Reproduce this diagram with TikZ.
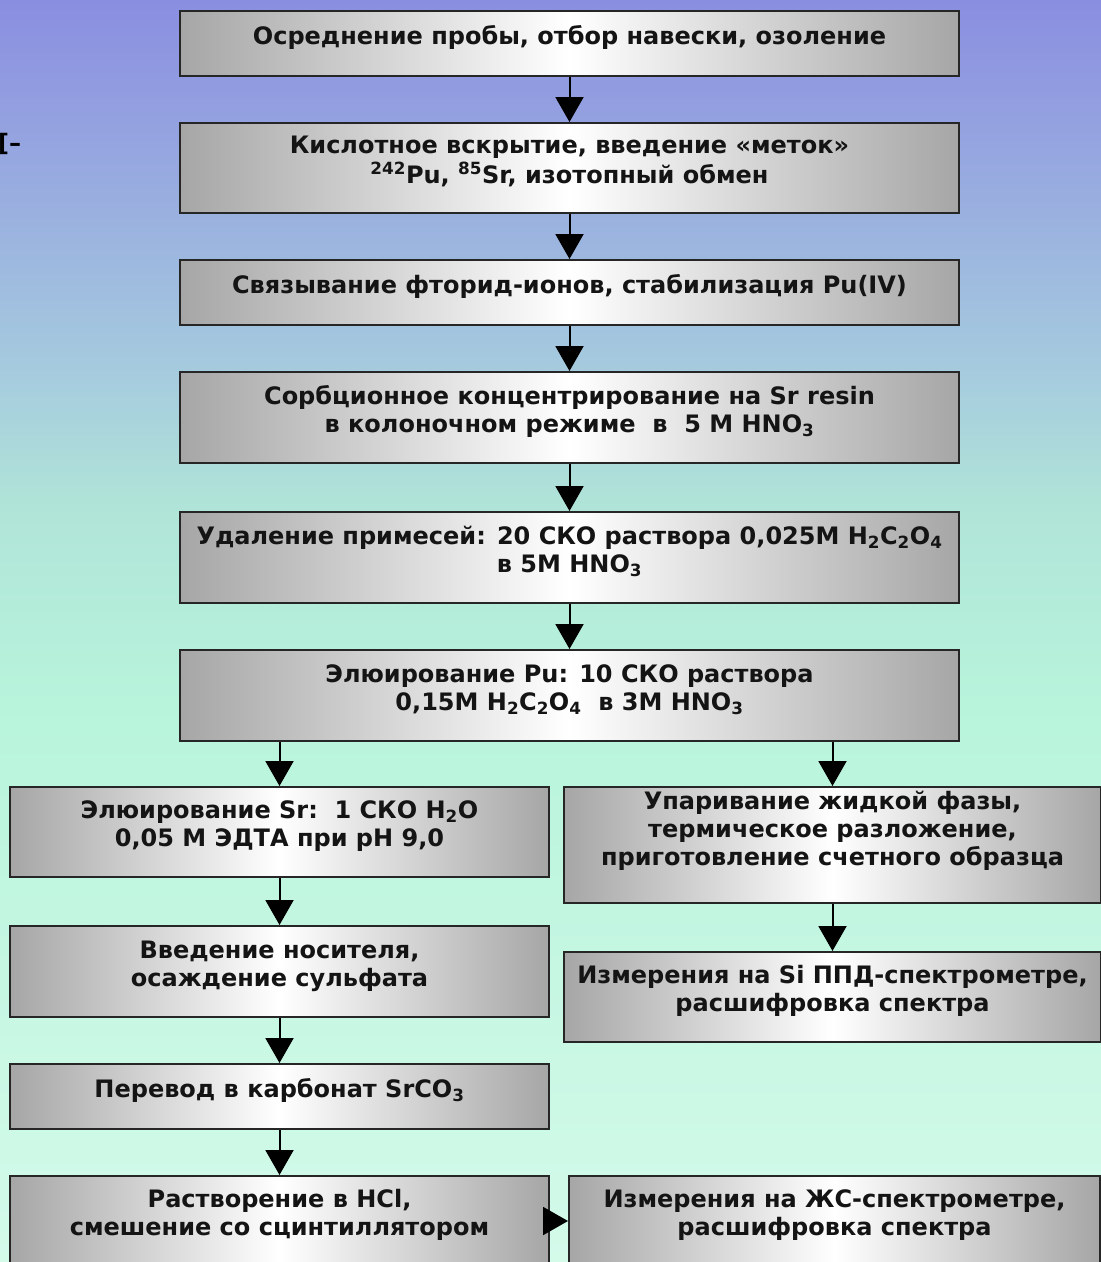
\documentclass[tikz,border=0pt]{standalone}
\usepackage{fontspec}
\setmainfont{DejaVu Sans}
\usepackage{tikz}
\usetikzlibrary{positioning, arrows.meta}
\definecolor{bgtop}{HTML}{8A8EE0}
\definecolor{bga}{HTML}{94A2E0}
\definecolor{bgb}{HTML}{A6CCDE}
\definecolor{bgc}{HTML}{B0E4D8}
\definecolor{bgd}{HTML}{B8F4DC}
\definecolor{bge}{HTML}{D4FAEA}
\definecolor{boxedge}{HTML}{A6A6A6}
\pgfdeclareverticalshading{bgsky}{100bp}{color(0bp)=(bge); color(25bp)=(bge); color(47bp)=(bgd); color(55bp)=(bgc); color(60bp)=(bgb); color(70bp)=(bga); color(75bp)=(bgtop); color(100bp)=(bgtop)}
\pgfdeclarehorizontalshading{boxshade}{100bp}{color(0bp)=(boxedge); color(25bp)=(boxedge); color(50bp)=(white); color(75bp)=(boxedge); color(100bp)=(boxedge)}
\newcommand{\stk}[1]{\begin{tabular}[b]{@{}c@{}}#1\end{tabular}}
\tikzset{
stage/.style={draw=black!85, line width=2pt, shading=boxshade, font=\fontsize{24}{28}\selectfont\bfseries, text=black!92, inner sep=0pt, text depth=18pt}, % one step of the scheme
wide/.style={minimum width=779pt}, % boxes of the main column
half/.style={minimum width=539pt}, % boxes of the two branches
flow/.style={line width=2pt, -{Triangle[length=25pt,width=28pt]}}, % arrow between steps
node distance=45pt, % gap between two steps
}

\begin{document}
\begin{tikzpicture}[x=1pt, y=-1pt]
        \useasboundingbox (0,0) rectangle (1101,1262);
        \shade[shading=bgsky] (0,0) rectangle (1101,1262);
        \node[anchor=base west, inner sep=0pt, font=\fontsize{24}{28}\selectfont\bfseries] (frag) at (-2,151) {[–};
        % main column
        \node[stage, wide, minimum height=65pt] (avg) at (569.5,43.5) {\stk{Осреднение пробы, отбор навески, озоление}};
        \node[stage, wide, minimum height=90pt, below=of avg] (acid) {\stk{Кислотное вскрытие, введение «меток»\\ \textsuperscript{242}Pu, \textsuperscript{85}Sr, изотопный обмен}};
        \node[stage, wide, minimum height=65pt, below=of acid] (fluor) {\stk{Связывание фторид-ионов, стабилизация Pu(IV)}};
        \node[stage, wide, minimum height=91pt, below=of fluor] (sorb) {\stk{Сорбционное концентрирование на Sr resin\\ в колоночном режиме\ \ в\ \ 5 M HNO\textsubscript{3}}};
        \node[stage, wide, minimum height=91pt, below=47pt of sorb] (wash) {\stk{Удаление примесей: 20 СКО раствора 0,025М H\textsubscript{2}C\textsubscript{2}O\textsubscript{4}\\ в 5М HNO\textsubscript{3}}};
        \node[stage, wide, minimum height=91pt, below=of wash] (elpu) {\stk{Элюирование Pu: 10 СКО раствора\\ 0,15M H\textsubscript{2}C\textsubscript{2}O\textsubscript{4}\ \ в 3M HNO\textsubscript{3}}};
        % Sr branch
        \node[stage, half, minimum height=90pt] (elsr) at (279.5,832) {\stk{Элюирование Sr:\ \ 1 СКО H\textsubscript{2}O\\ 0,05 М ЭДТА при pH 9,0}};
        \node[stage, half, minimum height=91pt, below=47pt of elsr] (carrier) {\stk{Введение носителя,\\ осаждение сульфата}};
        \node[stage, half, minimum height=65pt, below=of carrier] (carb) {\stk{Перевод в карбонат SrCO\textsubscript{3}}};
        \node[stage, half, minimum height=90pt, below=of carb] (dissolve) {\stk{Растворение в HCl,\\ смешение со сцинтиллятором}};
        \node[stage, minimum width=531pt, minimum height=90pt, right=18pt of dissolve] (lsc) {\stk{Измерения на ЖС-спектрометре,\\ расшифровка спектра}};
        % Pu branch
        \node[stage, minimum width=537pt, minimum height=116pt, text depth=34pt] (evap) at (832.5,845) {\stk{Упаривание жидкой фазы,\\ термическое разложение,\\ приготовление счетного образца}};
        \node[stage, minimum width=537pt, minimum height=90pt, below=47pt of evap] (alpha) {\stk{Измерения на Si ППД-спектрометре,\\ расшифровка спектра}};
        \draw[flow] (avg) -- (acid);
        \draw[flow] (acid) -- (fluor);
        \draw[flow] (fluor) -- (sorb);
        \draw[flow] (sorb) -- (wash);
        \draw[flow] (wash) -- (elpu);
        \draw[flow] (elpu.south -| elsr.north) -- (elsr.north);
        \draw[flow] (elpu.south -| evap.north) -- (evap.north);
        \draw[flow] (elsr) -- (carrier);
        \draw[flow] (carrier) -- (carb);
        \draw[flow] (carb) -- (dissolve);
        \draw[flow] (evap) -- (alpha);
        \draw[flow] (dissolve) -- (lsc);
\end{tikzpicture}
\end{document}
